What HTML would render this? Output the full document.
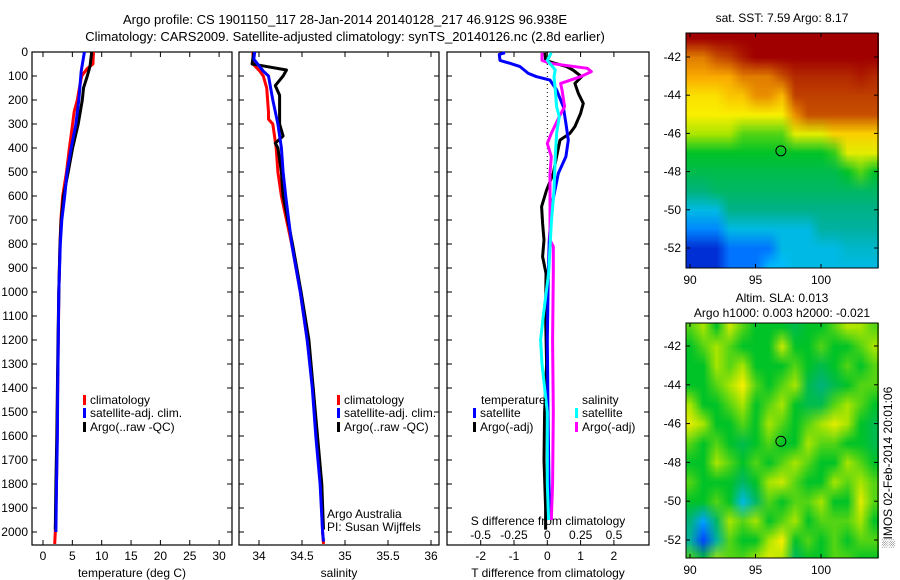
<!DOCTYPE html>
<html><head><meta charset="utf-8"><style>
html,body{margin:0;padding:0;background:#fff;width:900px;height:580px;overflow:hidden}
#wrap{position:relative;width:900px;height:580px}
canvas{position:absolute}
svg{position:absolute;left:0;top:0}
text{font-family:"Liberation Sans",sans-serif;font-size:12px;fill:#000}
</style></head><body>
<div id="wrap">
<canvas id="sst" width="193" height="235" style="left:686px;top:33px"></canvas>
<canvas id="sla" width="193" height="235" style="left:686px;top:323px"></canvas>
<svg id="svg" width="900" height="580"></svg>
</div>
<script>
// ---------- data ----------
const tempClimDepth=[0,50,70,100,150,200,250,300,400,500,600,700,800,1000,1200,1400,1600,1800,2000,2050];
const tempClim=[8.6,8.5,7.5,6.6,6.2,5.85,5.3,5.05,4.5,4.0,3.35,3.05,2.9,2.7,2.6,2.5,2.4,2.3,2.1,2.0];
const tempSatDepth=[0,80,200,300,400,500,600,700,800,1000,1200,1400,1600,1800,2000];
const tempSat=[7.05,6.5,6.1,5.6,4.8,4.1,3.7,3.2,2.95,2.7,2.6,2.5,2.45,2.3,2.2];
const tempArgoDepth=[0,60,100,150,200,300,400,500,600,700,800,1000,1200,1400,1600,1800,1990];
const tempArgo=[8.3,8.0,7.55,6.9,6.7,6.0,5.05,4.3,3.5,3.1,2.9,2.7,2.55,2.45,2.35,2.2,2.1];
const salClimDepth=[0,50,80,100,150,200,250,280,300,400,500,600,800,1000,1200,1400,1600,1800,2000,2050];
const salClim=[33.93,33.93,34.01,34.05,34.09,34.1,34.11,34.11,34.16,34.2,34.22,34.26,34.38,34.48,34.56,34.63,34.67,34.72,34.74,34.75];
const salSatDepth=[0,30,80,100,200,300,400,500,600,800,1000,1200,1400,1600,1800,2000,2040];
const salSat=[33.95,33.94,34.05,34.11,34.16,34.22,34.26,34.28,34.31,34.38,34.48,34.56,34.62,34.66,34.71,34.74,34.75];
const salArgoDepth=[0,50,55,75,100,140,180,200,250,300,350,380,400,500,600,800,1000,1200,1400,1600,1800,1990];
const salArgo=[33.94,33.92,34.0,34.32,34.28,34.19,34.24,34.24,34.24,34.24,34.28,34.19,34.22,34.26,34.28,34.39,34.49,34.58,34.63,34.68,34.73,34.75];
const dTsatDepth=[3,10,35,47,61,89,103,117,158,228,297,367,436,506,575,644,783,922,1200,1500,1800,1950];
const dTsat=[-1.27,-1.44,-1.42,-1.12,-0.82,-0.57,-0.32,0.08,0.28,0.48,0.56,0.63,0.56,0.33,0.23,0.13,0.06,0.03,0.0,0.02,0.05,0.08];
const dTargoDepth=[3,35,47,61,75,103,131,172,214,256,311,339,353,367,436,506,575,644,714,783,853,922,1100,1300,1500,1700,1900,1990];
const dTargo=[-0.07,-0.05,0.23,0.58,0.77,1.03,0.83,0.93,1.08,1.0,0.83,0.68,0.53,0.38,0.28,0.18,-0.02,-0.17,-0.14,-0.1,-0.14,-0.04,-0.05,-0.02,-0.08,-0.1,-0.05,-0.05];
const dSargoDepth=[3,35,47,68,82,103,131,158,228,269,339,381,436,506,644,783,811,922,1200,1500,1800,1950];
const dSargo=[-0.04,-0.04,0.02,0.3,0.33,0.25,0.1,0.11,0.13,0.09,0.03,0.0,0.03,0.02,0.02,0.02,0.045,0.045,0.04,0.045,0.04,0.03];
const dSsatDepth=[3,35,75,103,158,228,269,339,436,575,714,922,1100,1200,1300,1500,1800,1950];
const dSsat=[0.03,0.0,0.06,0.05,0.06,0.07,0.09,0.07,0.06,0.05,0.03,0.01,-0.03,-0.05,-0.04,0.0,0.0,0.01];
const depthTicks=[0,100,200,300,400,500,600,700,800,900,1000,1100,1200,1300,1400,1500,1600,1700,1800,1900,2000];
const tempTicks=[0,5,10,15,20,25,30];
const salTicks=[34,34.5,35,35.5,36];
const salTickLabels=["34","34.5","35","35.5","36"];
const dTTicks=[-2,-1,0,1,2];
const dSTicks=[-0.5,-0.25,0,0.25,0.5];
const dSTickLabels=["-0.5","-0.25","0","0.25","0.5"];
const lonTicks=[90,95,100];
const latTicks=[-42,-44,-46,-48,-50,-52];
const sstGrid=[
[1,1,1,1,1,1,1,1,1,1,1,1,1,1,1],
[0.8,0.8,0.85,0.88,0.95,1,1,1,1,1,1,1,1,1,1],
[0.75,0.75,0.75,0.75,0.8,0.8,0.8,0.85,0.92,0.92,0.92,0.92,0.92,0.95,0.92],
[0.65,0.65,0.65,0.7,0.7,0.78,0.78,0.72,0.88,0.88,0.88,0.88,0.88,0.88,0.88],
[0.62,0.62,0.62,0.62,0.62,0.62,0.62,0.62,0.78,0.85,0.85,0.85,0.85,0.85,0.85],
[0.55,0.55,0.55,0.55,0.5,0.5,0.5,0.5,0.6,0.6,0.6,0.68,0.68,0.68,0.68],
[0.45,0.45,0.45,0.45,0.45,0.45,0.45,0.45,0.45,0.45,0.45,0.48,0.6,0.6,0.6],
[0.42,0.42,0.42,0.42,0.42,0.42,0.42,0.42,0.42,0.42,0.42,0.42,0.45,0.5,0.45],
[0.38,0.38,0.4,0.4,0.4,0.4,0.4,0.4,0.4,0.4,0.4,0.4,0.4,0.4,0.4],
[0.3,0.3,0.3,0.37,0.37,0.37,0.37,0.37,0.37,0.37,0.37,0.37,0.37,0.37,0.37],
[0.22,0.22,0.22,0.3,0.3,0.3,0.3,0.3,0.3,0.3,0.35,0.35,0.35,0.35,0.35],
[0.1,0.1,0.1,0.2,0.2,0.2,0.2,0.3,0.3,0.3,0.3,0.3,0.32,0.32,0.32],
[0.1,0.1,0.1,0.2,0.2,0.2,0.28,0.28,0.3,0.3,0.3,0.3,0.3,0.3,0.3]];
const slaGrid=[
[0.5,0.55,0.45,0.58,0.5,0.45,0.45,0.45,0.42,0.45,0.45,0.5,0.56,0.55,0.5],
[0.45,0.5,0.55,0.5,0.45,0.45,0.45,0.58,0.45,0.45,0.5,0.45,0.45,0.5,0.55],
[0.45,0.45,0.55,0.5,0.55,0.45,0.45,0.45,0.5,0.45,0.42,0.45,0.5,0.45,0.5],
[0.45,0.45,0.5,0.55,0.62,0.5,0.45,0.5,0.55,0.42,0.38,0.42,0.45,0.5,0.5],
[0.55,0.45,0.45,0.5,0.55,0.45,0.5,0.55,0.45,0.42,0.42,0.5,0.55,0.5,0.45],
[0.6,0.55,0.45,0.45,0.5,0.45,0.55,0.5,0.45,0.5,0.55,0.6,0.55,0.45,0.42],
[0.5,0.45,0.5,0.45,0.42,0.45,0.5,0.45,0.45,0.55,0.5,0.5,0.45,0.45,0.42],
[0.45,0.45,0.55,0.5,0.45,0.5,0.45,0.5,0.55,0.5,0.45,0.45,0.55,0.5,0.45],
[0.5,0.45,0.45,0.45,0.4,0.45,0.55,0.58,0.5,0.45,0.45,0.55,0.5,0.55,0.5],
[0.45,0.45,0.5,0.45,0.3,0.4,0.5,0.45,0.5,0.5,0.55,0.45,0.45,0.6,0.5],
[0.38,0.25,0.4,0.55,0.5,0.55,0.45,0.5,0.55,0.45,0.5,0.5,0.5,0.55,0.45],
[0.35,0.15,0.35,0.5,0.45,0.45,0.55,0.62,0.45,0.5,0.45,0.5,0.45,0.5,0.5],
[0.5,0.45,0.55,0.5,0.5,0.55,0.6,0.55,0.4,0.45,0.45,0.5,0.5,0.45,0.45]];
const floatLon=96.938, floatLat=-46.912;

// ---------- scales ----------
const yD=d=>52+d*0.24;
const xT=t=>43+t*5.87;
const xS=s=>259+(s-34)*86;
const xDT=t=>547.3+t*33.3;
const xDS=s=>547.3+s*133.3;
const lonX0=686, lonK=13.1; const lonX=l=>690+(l-90)*lonK;
const latY1=l=>57+(-42-l)*19.1;
const latY2=l=>346+(-42-l)*19.4;

const NS="http://www.w3.org/2000/svg";
const svg=document.getElementById('svg');
function mk(tag,attrs,parent){const e=document.createElementNS(NS,tag);for(const k in attrs)e.setAttribute(k,attrs[k]);(parent||svg).appendChild(e);return e;}
function txt(x,y,s,anchor,name,parent){const t=mk('text',{x:x,y:y,'text-anchor':anchor||'start'},parent);t.textContent=s;


return t;}

// panels
const panels=[{x0:32,x1:232,name:'temperature-panel'},{x0:239,x1:439,name:'salinity-panel'},{x0:447,x1:649,name:'difference-panel'}];
panels.forEach(p=>{
  const g=mk('g',{});
  
  
  const r=mk('rect',{x:p.x0,y:52,width:p.x1-p.x0,height:493,fill:'none',stroke:'#000','stroke-width':1.2},g);
  
  
  depthTicks.forEach(d=>{
    mk('line',{x1:p.x0,x2:p.x0+5,y1:yD(d),y2:yD(d),stroke:'#000'},g);
    mk('line',{x1:p.x1-5,x2:p.x1,y1:yD(d),y2:yD(d),stroke:'#000'},g);
  });
  p.g=g;
});
depthTicks.forEach(d=>txt(28,yD(d)+4,String(d),'end','y-tick-label'));

function xticks(xs,vals,labels,g,labY){
  vals.forEach((v,i)=>{const x=xs(v);
    mk('line',{x1:x,x2:x,y1:545,y2:540,stroke:'#000'},g);
    mk('line',{x1:x,x2:x,y1:52,y2:57,stroke:'#000'},g);
    if(labels) txt(x,labY,labels[i],'middle','x-tick-label',g);
  });
}
xticks(xT,tempTicks,tempTicks.map(String),panels[0].g,560);
xticks(xS,salTicks,salTickLabels,panels[1].g,560);
xticks(xDT,dTTicks,dTTicks.map(String),panels[2].g,560);
dSTicks.forEach((v,i)=>txt(xDS(v),539,dSTickLabels[i],'middle','s-diff-tick-label',panels[2].g));
txt(132,577,'temperature (deg C)','middle','x-axis-title-temperature');
txt(339,577,'salinity','middle','x-axis-title-salinity');
txt(548,577,'T difference from climatology','middle','x-axis-title-t-diff');
txt(548,525,'S difference from climatology','middle','s-diff-axis-title');

function line(xs,xv,dv,color,name,w,parent){
  const pts=xv.map((v,i)=>xs(v).toFixed(1)+','+yD(dv[i]).toFixed(1)).join(' ');
  const pl=mk('polyline',{points:pts,fill:'none',stroke:color,'stroke-width':w||3,'stroke-linejoin':'round'},parent);
  
  
}
// clip diff panel lines
line(xT,tempClim,tempClimDepth,'#f00','temp-climatology-line');
line(xT,tempArgo,tempArgoDepth,'#000','temp-argo-line');
line(xT,tempSat,tempSatDepth,'#00f','temp-satellite-line');
line(xS,salClim,salClimDepth,'#f00','sal-climatology-line');
line(xS,salArgo,salArgoDepth,'#000','sal-argo-line');
line(xS,salSat,salSatDepth,'#00f','sal-satellite-line');
const zl=mk('line',{x1:547.3,x2:547.3,y1:52,y2:yD(520),stroke:'#000','stroke-dasharray':'1,3'});


line(xDT,dTargo,dTargoDepth,'#000','t-diff-argo-line');
line(xDT,dTsat,dTsatDepth,'#00f','t-diff-satellite-line');
line(xDS,dSargo,dSargoDepth,'#f0f','s-diff-argo-line');
line(xDS,dSsat,dSsatDepth,'#0ff','s-diff-satellite-line');

// legends
function leg(x,y,color,label){
  const g=mk('g',{});
  
  
  mk('rect',{x:x,y:y-9,width:3,height:10,fill:color},g);
  txt(x+7,y,label,'start','legend-label',g);
}
leg(83,404,'#f00','climatology');leg(83,417,'#00f','satellite-adj. clim.');leg(83,431,'#000','Argo(..raw -QC)');
leg(337,404,'#f00','climatology');leg(337,417,'#00f','satellite-adj. clim.');leg(337,431,'#000','Argo(..raw -QC)');
txt(481,404,'temperature','start','legend-heading-temperature');
txt(582,404,'salinity','start','legend-heading-salinity');
leg(473,417,'#00f','satellite');leg(473,431,'#000','Argo(-adj)');
leg(575,417,'#0ff','satellite');leg(575,431,'#f0f','Argo(-adj)');
txt(327,518,'Argo Australia','start','credit-argo-australia');
txt(327,531,'PI: Susan Wijffels','start','credit-pi');

txt(345,24,'Argo profile: CS 1901150_117 28-Jan-2014 20140128_217 46.912S 96.938E','middle','title-line-1').style.fontSize='13px';
txt(345,41,'Climatology: CARS2009. Satellite-adjusted climatology: synTS_20140126.nc (2.8d earlier)','middle','title-line-2').style.fontSize='13px';

// maps
const stops=[[0,[0,0,130]],[0.15,[0,70,255]],[0.28,[0,190,255]],[0.36,[0,175,150]],[0.45,[0,195,40]],[0.55,[170,230,0]],[0.62,[250,240,0]],[0.75,[250,170,0]],[0.85,[200,80,0]],[1,[160,0,0]]];
function cmap(v){for(let i=1;i<stops.length;i++){if(v<=stops[i][0]){const a=stops[i-1],b=stops[i],f=(v-a[0])/(b[0]-a[0]);return a[1].map((c,k)=>Math.round(c+(b[1][k]-c)*f));}}return stops[stops.length-1][1];}
function drawMap(id,grid,latY,top){
  const cv=document.getElementById(id),ctx=cv.getContext('2d');
  const rows=grid.length,cols=grid[0].length;
  const small=document.createElement('canvas');small.width=cols;small.height=rows;
  const sc=small.getContext('2d');const im=sc.createImageData(cols,rows);
  grid.forEach((row,r)=>row.forEach((v,c)=>{const col=cmap(v),o=(r*cols+c)*4;im.data[o]=col[0];im.data[o+1]=col[1];im.data[o+2]=col[2];im.data[o+3]=255;}));
  sc.putImageData(im,0,0);
  ctx.imageSmoothingEnabled=true;
  const x0=lonX(89.5)-686, x1=lonX(104.5)-686;
  const y0=latY(-40.5)-top, y1=latY(-53.5)-top;
  ctx.drawImage(small,x0,y0,x1-x0,y1-y0);
}
drawMap('sst',sstGrid,latY1,33);
drawMap('sla',slaGrid,latY2,323);
function mapAxes(top,bottom,latY,name){
  const g=mk('g',{});
  
  
  mk('rect',{x:686,y:top,width:192,height:bottom-top,fill:'none',stroke:'#000'},g);
  latTicks.forEach(l=>{const y=latY(l);mk('line',{x1:686,x2:690,y1:y,y2:y,stroke:'#000'},g);mk('line',{x1:874,x2:878,y1:y,y2:y,stroke:'#000'},g);txt(681,y+4,String(l),'end','lat-tick-label',g);});
  lonTicks.forEach(l=>{const x=lonX(l);mk('line',{x1:x,x2:x,y1:top,y2:top+4,stroke:'#000'},g);mk('line',{x1:x,x2:x,y1:bottom-4,y2:bottom,stroke:'#000'},g);txt(x,bottom+16,String(l),'middle','lon-tick-label',g);});
  const c=mk('ellipse',{cx:lonX(floatLon),cy:latY(floatLat),rx:5,ry:5,fill:'none',stroke:'#000','stroke-width':1},g);
  
  
}
mapAxes(33,268,latY1,'sst-map-axes');
mapAxes(323,558,latY2,'sla-map-axes');
txt(782,22,'sat. SST: 7.59 Argo: 8.17','middle','sst-map-title');
txt(782,302,'Altim. SLA: 0.013','middle','sla-map-title');
txt(782,317,'Argo h1000: 0.003 h2000: -0.021','middle','sla-map-subtitle');
const v=txt(0,0,'\u2591IMOS 02-Feb-2014 20:01:06','start','imos-timestamp');
v.setAttribute('transform','translate(892,548) rotate(-90)');
</script>
</body></html>
